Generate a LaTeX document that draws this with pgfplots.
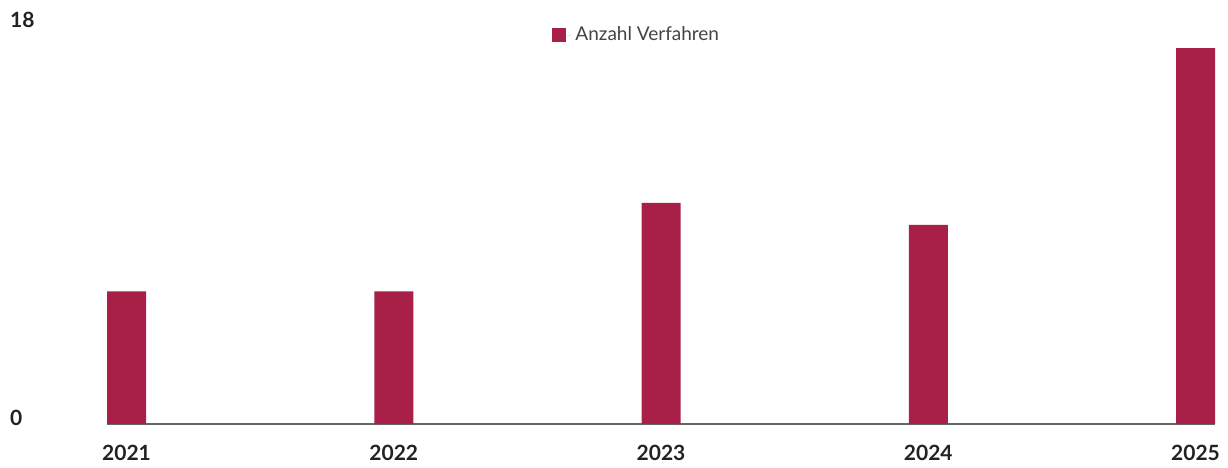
\documentclass[border=0pt]{standalone}
\usepackage{fontspec}
\setmainfont{Lato}
\usepackage{pgfplots}
\pgfplotsset{compat=1.18}
\definecolor{barred}{RGB}{168,32,71}
\definecolor{labelgray}{RGB}{34,34,34}
\definecolor{legendgray}{RGB}{68,68,68}

\begin{document}
\begin{tikzpicture}
\begin{axis}[
    scale only axis,
    width=554pt,
    height=199pt,
    ybar,
    bar width=19.5pt,
    xmin=-0.073, xmax=4.073,
    ymin=0, ymax=18,
    xtick={0,1,2,3,4},
    xticklabels={2021,2022,2023,2024,2025},
    ytick={0,18},
    axis x line*=bottom,
    axis y line*=left,
    axis line style={-},
    x axis line style={draw=gray!80!black, line width=0.7pt},
    y axis line style={draw=none},
    major tick length=0pt,
    tick label style={font=\fontsize{10.5}{12}\selectfont\bfseries, text=labelgray},
    /pgf/number format/assume math mode=true,
    xticklabel style={yshift=-7pt},
    yticklabel style={anchor=west, xshift=-52pt, yshift=3pt},
    clip=false,
    legend style={draw=none, fill=none, at={(rel axis cs:0.479,0.977)}, anchor=center,
        font=\fontsize{9.5}{11}\selectfont, text=legendgray},
    legend image code/.code={
        \fill[#1] (0pt,-3.5pt) rectangle (7pt,3.5pt);
        \path (0pt,0pt) -- (9.5pt,0pt);},
]
\addplot[fill=barred, draw=none] coordinates {(0,6) (1,6) (2,10) (3,9) (4,17)};
\addlegendentry{Anzahl Verfahren}
\path (rel axis cs:-0.0966,-0.103) rectangle (rel axis cs:1.0117,1.0653);
\end{axis}
\end{tikzpicture}
\end{document}
